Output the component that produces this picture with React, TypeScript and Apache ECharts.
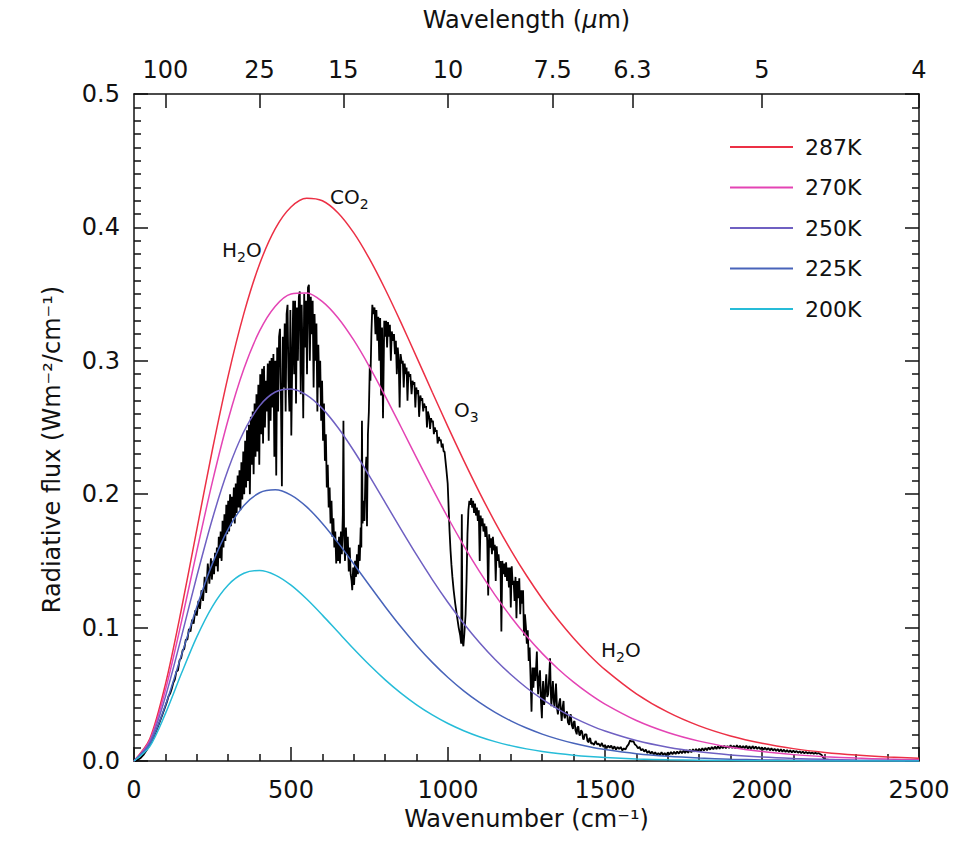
import React, { useEffect, useRef } from "react";
import * as echarts from "echarts";

// Wavenumber grid (cm^-1) for the reference curves
const planckWn = [0, 50, 100, 150, 200, 250, 300, 350, 400, 450, 500, 550, 600, 650, 700, 750, 800, 850, 900, 950, 1000, 1050, 1100, 1150, 1200, 1250, 1300, 1350, 1400, 1450, 1500, 1600, 1700, 1800, 1900, 2000, 2100, 2200, 2300, 2400, 2500];

const flux287 = [0, 0.01642, 0.05749, 0.11263, 0.17349, 0.23369, 0.2887, 0.33554, 0.37254, 0.39906, 0.41527, 0.42187, 0.41996, 0.41083, 0.39584, 0.37635, 0.35361, 0.32876, 0.30277, 0.27646, 0.25048, 0.22534, 0.20141, 0.17896, 0.15814, 0.13904, 0.12167, 0.10601, 0.092, 0.07953, 0.06851, 0.05036, 0.03658, 0.0263, 0.01874, 0.01324, 0.00928, 0.00646, 0.00447, 0.00308, 0.00211];
const flux270 = [0, 0.01532, 0.05316, 0.10317, 0.15729, 0.2096, 0.256, 0.29401, 0.3224, 0.34093, 0.35009, 0.35084, 0.34441, 0.33215, 0.31543, 0.29552, 0.27356, 0.25054, 0.22726, 0.20437, 0.18234, 0.16153, 0.14215, 0.12436, 0.10819, 0.09364, 0.08067, 0.0692, 0.05911, 0.05031, 0.04266, 0.03038, 0.02139, 0.0149, 0.01028, 0.00704, 0.00478, 0.00323, 0.00216, 0.00144, 0.00096];
const flux250 = [0, 0.01403, 0.04809, 0.09212, 0.13849, 0.18182, 0.21862, 0.24698, 0.26623, 0.27659, 0.27888, 0.27428, 0.26414, 0.24981, 0.23257, 0.21356, 0.19371, 0.17381, 0.15444, 0.13602, 0.11885, 0.1031, 0.08885, 0.0761, 0.06482, 0.05493, 0.04633, 0.03891, 0.03254, 0.02711, 0.0225, 0.01536, 0.01036, 0.00692, 0.00458, 0.003, 0.00195, 0.00126, 0.00081, 0.00052, 0.00033];
const flux225 = [0, 0.01241, 0.04179, 0.07846, 0.11545, 0.14815, 0.17388, 0.19154, 0.2011, 0.2033, 0.19931, 0.19046, 0.17811, 0.1635, 0.14768, 0.13152, 0.11567, 0.10061, 0.08664, 0.07395, 0.06261, 0.05262, 0.04393, 0.03645, 0.03008, 0.02469, 0.02017, 0.0164, 0.01329, 0.01072, 0.00862, 0.00552, 0.00349, 0.00219, 0.00136, 0.00084, 0.00051, 0.00031, 0.00019, 0.00011, 0.00007];
const flux200 = [0, 0.01081, 0.03553, 0.06503, 0.09309, 0.11599, 0.13197, 0.1407, 0.14279, 0.13937, 0.1318, 0.12139, 0.10934, 0.09662, 0.08398, 0.07195, 0.06085, 0.05089, 0.04213, 0.03456, 0.02813, 0.02272, 0.01823, 0.01453, 0.01152, 0.00909, 0.00713, 0.00558, 0.00434, 0.00336, 0.0026, 0.00154, 0.0009, 0.00052, 0.0003, 0.00017, 0.0001, 0.00005, 0.00003, 0.00002, 0.00001];

const curveNames = ["287K", "270K", "250K", "225K", "200K"];
const curveColors = ["#ec3045", "#e444b4", "#6f60c2", "#4864ba", "#26bcd8"];

// Measured outgoing spectrum [wavenumber, flux]
const spectrum: [number, number][] = [
  [0, 0], [10, 0.0005], [20, 0.002], [30, 0.0045], [40, 0.008], [50, 0.0122], [60, 0.0168], [70, 0.0222], [80, 0.0282], [90, 0.0345],
  [100, 0.041], [105, 0.0445], [110, 0.0485], [115, 0.0505], [120, 0.054], [125, 0.0585], [130, 0.061], [135, 0.067], [140, 0.068], [145, 0.0755], [150, 0.077],
  [155, 0.083], [160, 0.084], [165, 0.091], [170, 0.091], [175, 0.099], [180, 0.097], [185, 0.106], [190, 0.103], [195, 0.113], [200, 0.109],
  [205, 0.12], [210, 0.114], [215, 0.128], [220, 0.12], [225, 0.138], [230, 0.126], [235, 0.148], [240, 0.133], [245, 0.152], [248, 0.136],
  // water vapour rotation band
  [252, 0.15], [255, 0.14], [258, 0.156], [261, 0.146], [264, 0.16], [267, 0.142], [270, 0.168], [273, 0.152], [276, 0.172], [279, 0.15],
  [282, 0.18], [285, 0.16], [288, 0.185], [291, 0.165], [294, 0.192], [297, 0.17], [300, 0.195], [303, 0.172], [306, 0.2], [309, 0.176],
  [312, 0.198], [315, 0.182], [318, 0.205], [321, 0.178], [324, 0.208], [327, 0.186], [330, 0.214], [333, 0.19], [336, 0.218], [339, 0.188],
  [342, 0.224], [345, 0.196], [348, 0.232], [351, 0.2], [354, 0.24], [357, 0.205], [360, 0.248], [363, 0.21], [366, 0.252], [369, 0.2],
  [372, 0.258], [375, 0.222], [378, 0.262], [381, 0.215], [384, 0.268], [387, 0.228], [390, 0.275], [393, 0.232], [396, 0.282], [399, 0.222],
  [402, 0.29], [405, 0.245], [408, 0.294], [411, 0.238], [414, 0.296], [417, 0.25], [420, 0.285], [423, 0.262], [426, 0.298], [429, 0.24],
  [432, 0.3], [435, 0.255], [438, 0.302], [441, 0.265], [444, 0.305], [447, 0.228], [450, 0.3], [453, 0.214], [456, 0.31], [459, 0.262],
  [462, 0.318], [465, 0.324], [468, 0.27], [471, 0.206], [474, 0.318], [477, 0.28], [480, 0.328], [483, 0.262], [486, 0.335], [489, 0.342],
  [492, 0.285], [495, 0.262], [498, 0.338], [501, 0.244], [504, 0.3], [507, 0.345], [510, 0.29], [513, 0.345], [516, 0.268], [519, 0.34],
  [522, 0.3], [525, 0.348], [528, 0.352], [531, 0.275], [534, 0.342], [537, 0.3], [539, 0.257], [542, 0.35], [545, 0.31], [548, 0.345],
  [551, 0.29], [554, 0.355], [557, 0.357], [560, 0.3], [563, 0.348], [566, 0.32], [569, 0.345], [572, 0.28], [575, 0.335], [578, 0.3],
  [581, 0.328], [584, 0.262], [587, 0.312], [590, 0.28], [593, 0.3], [596, 0.255], [599, 0.285], [602, 0.24], [605, 0.268], [608, 0.225],
  [611, 0.245], [614, 0.205], [617, 0.222], [620, 0.19], [623, 0.205], [626, 0.178], [629, 0.195], [632, 0.168], [635, 0.182], [638, 0.16],
  [641, 0.172], [644, 0.148],
  // CO2 band
  [647, 0.165], [650, 0.15], [653, 0.168], [656, 0.148], [659, 0.172], [662, 0.155], [665, 0.185], [667, 0.255], [669, 0.17], [672, 0.15],
  [675, 0.175], [678, 0.155], [681, 0.168], [684, 0.142], [687, 0.16], [690, 0.14], [693, 0.135], [695, 0.128], [698, 0.145], [701, 0.132],
  [704, 0.15], [707, 0.138], [710, 0.155], [713, 0.14], [716, 0.162], [719, 0.15], [722, 0.175], [724, 0.16], [726, 0.255], [728, 0.178],
  [731, 0.195], [734, 0.18], [737, 0.215], [740, 0.228], [742, 0.176], [745, 0.245], [748, 0.262], [751, 0.297], [753, 0.285], [756, 0.32],
  [759, 0.342],
  // atmospheric window
  [762, 0.335], [766, 0.34], [769, 0.32], [772, 0.338], [775, 0.315], [778, 0.333], [781, 0.3], [784, 0.332], [787, 0.274], [790, 0.325],
  [793, 0.257], [797, 0.33], [800, 0.318], [803, 0.33], [806, 0.31], [809, 0.329], [812, 0.318], [815, 0.327], [818, 0.3], [821, 0.322],
  [825, 0.315], [828, 0.32], [831, 0.305], [834, 0.315], [837, 0.29], [840, 0.31], [843, 0.3], [846, 0.265], [849, 0.305], [853, 0.298],
  [856, 0.3], [859, 0.28], [862, 0.298], [865, 0.29], [868, 0.295], [871, 0.27], [874, 0.292], [877, 0.288], [880, 0.29], [884, 0.275],
  [887, 0.285], [890, 0.282], [893, 0.284], [896, 0.265], [899, 0.28], [902, 0.275], [905, 0.278], [908, 0.258], [912, 0.274], [915, 0.27],
  [918, 0.272], [921, 0.262], [924, 0.268], [927, 0.265], [930, 0.266], [933, 0.25], [936, 0.262], [940, 0.258], [943, 0.249], [946, 0.257],
  [949, 0.254], [952, 0.255], [955, 0.245], [958, 0.25], [961, 0.247], [964, 0.248], [967, 0.238], [971, 0.243], [974, 0.24], [977, 0.241],
  [980, 0.235], [983, 0.238], [986, 0.232], [989, 0.232], [992, 0.225], [995, 0.218], [999, 0.208], [1002, 0.19], [1005, 0.172], [1008, 0.158],
  // ozone band
  [1011, 0.147], [1014, 0.138], [1018, 0.128], [1023, 0.118], [1029, 0.108], [1034, 0.1], [1039, 0.094], [1042, 0.088], [1044, 0.185], [1046, 0.09],
  [1049, 0.086], [1052, 0.095], [1056, 0.11], [1059, 0.135], [1062, 0.17], [1065, 0.188], [1068, 0.195], [1071, 0.192],
  [1074, 0.197], [1077, 0.19], [1080, 0.195], [1083, 0.186], [1086, 0.193], [1089, 0.184], [1092, 0.19], [1095, 0.18], [1098, 0.188], [1101, 0.15],
  [1104, 0.184], [1107, 0.176], [1110, 0.182], [1113, 0.172], [1116, 0.178], [1119, 0.168], [1122, 0.176], [1125, 0.165], [1128, 0.124], [1131, 0.17],
  [1134, 0.16], [1137, 0.167], [1140, 0.155], [1143, 0.168], [1146, 0.158], [1149, 0.162], [1152, 0.135], [1155, 0.161], [1158, 0.15], [1161, 0.155],
  [1164, 0.145], [1167, 0.15], [1170, 0.097], [1173, 0.15], [1176, 0.14], [1179, 0.148], [1182, 0.138], [1185, 0.149], [1188, 0.135], [1191, 0.145],
  [1194, 0.13], [1197, 0.145], [1200, 0.115], [1203, 0.146], [1206, 0.132], [1209, 0.135], [1212, 0.12], [1215, 0.138], [1218, 0.107], [1221, 0.135],
  [1224, 0.122], [1227, 0.137], [1230, 0.11], [1233, 0.128], [1236, 0.118], [1239, 0.128], [1242, 0.094], [1245, 0.11], [1248, 0.101], [1251, 0.088],
  [1254, 0.098], [1257, 0.075], [1260, 0.085], [1263, 0.062], [1266, 0.037], [1269, 0.07], [1272, 0.055], [1275, 0.07], [1278, 0.06], [1281, 0.072],
  [1283, 0.082], [1285, 0.062], [1287, 0.05], [1290, 0.062], [1293, 0.068], [1296, 0.045], [1299, 0.032], [1301, 0.052], [1303, 0.06], [1306, 0.042],
  [1308, 0.045], [1311, 0.058], [1313, 0.065], [1316, 0.048], [1319, 0.05], [1322, 0.062], [1325, 0.077], [1327, 0.055], [1329, 0.041], [1332, 0.052],
  [1334, 0.06], [1337, 0.045], [1339, 0.04], [1342, 0.05], [1344, 0.058], [1347, 0.04], [1350, 0.035], [1353, 0.042], [1357, 0.047], [1360, 0.036],
  [1362, 0.03], [1365, 0.04], [1368, 0.045], [1370, 0.034], [1372, 0.032], [1376, 0.036], [1379, 0.037], [1382, 0.029], [1386, 0.027], [1388, 0.033],
  [1391, 0.035], [1394, 0.027], [1398, 0.024], [1400, 0.029], [1403, 0.03], [1406, 0.023], [1410, 0.02], [1412, 0.025], [1415, 0.026], [1418, 0.02],
  [1420, 0.019], [1424, 0.023], [1427, 0.022], [1430, 0.017], [1432, 0.016], [1436, 0.02], [1441, 0.02], [1444, 0.015], [1448, 0.014], [1450, 0.017],
  [1453, 0.017], [1456, 0.013],
  // nu2 water band and beyond
  [1460, 0.0135], [1465, 0.012], [1470, 0.015], [1475, 0.0125], [1480, 0.013], [1485, 0.011], [1490, 0.0135], [1495, 0.0105], [1500, 0.012], [1505, 0.0095],
  [1510, 0.0115], [1515, 0.01], [1520, 0.0115], [1525, 0.009], [1530, 0.011], [1535, 0.0085], [1540, 0.0105], [1545, 0.009], [1550, 0.0105], [1555, 0.008],
  [1560, 0.0095], [1565, 0.0085], [1570, 0.011], [1575, 0.0125], [1580, 0.0155], [1585, 0.0145], [1590, 0.015], [1595, 0.0125], [1600, 0.0115], [1605, 0.0095],
  [1610, 0.0105], [1615, 0.008], [1620, 0.009], [1625, 0.007], [1630, 0.0085], [1635, 0.006], [1640, 0.0075], [1645, 0.0055], [1650, 0.007], [1655, 0.005],
  [1660, 0.0065], [1665, 0.0045], [1670, 0.006], [1675, 0.0045], [1680, 0.0065], [1685, 0.0045], [1690, 0.006], [1695, 0.0042], [1700, 0.0065], [1705, 0.0048],
  [1710, 0.0068], [1715, 0.005], [1720, 0.007], [1725, 0.0052], [1730, 0.0072], [1735, 0.0055], [1740, 0.0075], [1745, 0.0058], [1750, 0.0078], [1755, 0.006],
  [1760, 0.008], [1765, 0.0062], [1770, 0.0085], [1775, 0.0065], [1780, 0.0088], [1785, 0.007], [1790, 0.009], [1795, 0.0072], [1800, 0.0092], [1805, 0.0075],
  [1810, 0.0095], [1815, 0.0078], [1820, 0.0098], [1825, 0.008], [1830, 0.0102], [1835, 0.0085], [1840, 0.0105], [1845, 0.0088], [1850, 0.0108], [1855, 0.009],
  [1860, 0.011], [1865, 0.0092], [1870, 0.0112], [1875, 0.0095], [1880, 0.0115], [1885, 0.0095], [1890, 0.0112], [1895, 0.0098], [1900, 0.0118], [1905, 0.0098],
  [1910, 0.0115], [1915, 0.0095], [1920, 0.0118], [1925, 0.0098], [1930, 0.0115], [1935, 0.0095], [1940, 0.0112], [1945, 0.0095], [1950, 0.0115], [1955, 0.0092],
  [1960, 0.011], [1965, 0.009], [1970, 0.0112], [1975, 0.0092], [1980, 0.0108], [1985, 0.009], [1990, 0.0105], [1995, 0.0088], [2000, 0.0102], [2005, 0.0085],
  [2010, 0.01], [2015, 0.0082], [2020, 0.0098], [2025, 0.008], [2030, 0.0095], [2035, 0.0078], [2040, 0.0092], [2045, 0.0075], [2050, 0.009], [2055, 0.0072],
  [2060, 0.0088], [2065, 0.007], [2070, 0.0085], [2075, 0.0068], [2080, 0.0082], [2085, 0.0066], [2090, 0.008], [2095, 0.0065], [2100, 0.0078], [2105, 0.0064],
  [2110, 0.0075], [2115, 0.0062], [2120, 0.0072], [2125, 0.006], [2130, 0.007], [2135, 0.0058], [2140, 0.0068], [2145, 0.0057], [2150, 0.0065], [2155, 0.0056],
  [2160, 0.0064], [2165, 0.0055], [2170, 0.0062], [2175, 0.0054], [2180, 0.006], [2185, 0.0052], [2190, 0.0045], [2195, 0.0025], [2200, 0.0012], [2215, 0.0009],
  [2230, 0.0006],
];

// Top axis: wavelength ticks (µm) at their wavenumbers
const topTickWn = [100, 400, 666.667, 1000, 1333.333, 1587.302, 2000, 2500];
const topTickLabels = ["100", "25", "15", "10", "7.5", "6.3", "5", "4"];

// Band annotations: main part, subscript, trailing part
const bandLabels = [
  { pre: "H", sub: "2", post: "O", x: 222, y: 250 },
  { pre: "CO", sub: "2", post: "", x: 330, y: 197 },
  { pre: "O", sub: "3", post: "", x: 454, y: 410 },
  { pre: "H", sub: "2", post: "O", x: 601, y: 650 },
];

const FONT = "DejaVu Sans";

export default function App() {
  const ref = useRef<HTMLDivElement>(null);
  useEffect(() => {
    if (!ref.current) return;
    const chart = echarts.init(ref.current, undefined, { renderer: "svg" });
    const curves = [flux287, flux270, flux250, flux225, flux200];
    const tickStyle = { show: true, inside: true, length: 14, lineStyle: { color: "#111", width: 1.5 } };
    const minorStyle = { lineStyle: { color: "#111", width: 1.5 }, length: 7 };
    const lineAxis = { show: true, onZero: false, lineStyle: { color: "#111", width: 1.5 } };
    const labelRich = {
      n: { fontSize: 20, fontFamily: FONT, color: "#111", lineHeight: 28, verticalAlign: "middle" },
      s: { fontSize: 14, fontFamily: FONT, color: "#111", lineHeight: 14, verticalAlign: "bottom" },
    };
    chart.setOption({
      animation: false,
      backgroundColor: "#ffffff",
      textStyle: { fontFamily: FONT },
      grid: { left: 134, top: 94, width: 785, height: 667, containLabel: false },
      legend: {
        orient: "vertical",
        left: 730,
        top: 136,
        icon: "rect",
        itemWidth: 63,
        itemHeight: 2,
        itemGap: 18.5,
        padding: 0,
        selectedMode: false,
        data: curveNames,
        textStyle: { fontSize: 22, fontFamily: FONT, color: "#111", padding: [0, 0, 0, 7], lineHeight: 22 },
      },
      xAxis: [
        {
          type: "value",
          position: "bottom",
          min: 0,
          max: 2500,
          interval: 500,
          axisLine: lineAxis,
          axisTick: tickStyle,
          minorTick: { show: true, splitNumber: 5, ...minorStyle },
          splitLine: { show: false },
          minorSplitLine: { show: false },
          axisLabel: { fontSize: 24, fontFamily: FONT, color: "#111", margin: 17, formatter: (v: number) => String(v) },
          name: "Wavenumber (cm⁻¹)",
          nameLocation: "middle",
          nameGap: 44,
          nameTextStyle: { fontSize: 24, fontFamily: FONT, color: "#111" },
        },
        {
          type: "value",
          position: "top",
          min: 0,
          max: 2500,
          axisLine: lineAxis,
          axisTick: { ...tickStyle, customValues: topTickWn },
          splitLine: { show: false },
          axisLabel: {
            fontSize: 24,
            fontFamily: FONT,
            color: "#111",
            margin: 12,
            customValues: topTickWn,
            formatter: (v: number) => {
              let best = 0;
              topTickWn.forEach((w, i) => {
                if (Math.abs(w - v) < Math.abs(topTickWn[best] - v)) best = i;
              });
              return topTickLabels[best];
            },
          },
          name: "{n|Wavelength (}{i|μ}{n|m)}",
          nameLocation: "middle",
          nameGap: 62,
          nameTextStyle: {
            fontSize: 24,
            fontFamily: FONT,
            color: "#111",
            rich: {
              n: { fontSize: 24, fontFamily: FONT, color: "#111" },
              i: { fontSize: 24, fontFamily: FONT, color: "#111", fontStyle: "italic" },
            },
          },
        },
      ],
      yAxis: [
        {
          type: "value",
          position: "left",
          min: 0,
          max: 0.5,
          interval: 0.1,
          axisLine: lineAxis,
          axisTick: tickStyle,
          minorTick: { show: true, splitNumber: 10, ...minorStyle },
          splitLine: { show: false },
          axisLabel: { fontSize: 24, fontFamily: FONT, color: "#111", margin: 14, formatter: (v: number) => v.toFixed(1) },
          name: "Radiative flux (Wm⁻²/cm⁻¹)",
          nameLocation: "middle",
          nameGap: 70,
          nameTextStyle: { fontSize: 24, fontFamily: FONT, color: "#111", padding: [0, 44, 0, 0] },
        },
        {
          type: "value",
          position: "right",
          min: 0,
          max: 0.5,
          interval: 0.1,
          axisLine: lineAxis,
          axisTick: tickStyle,
          minorTick: { show: true, splitNumber: 10, ...minorStyle },
          splitLine: { show: false },
          axisLabel: { show: false },
        },
      ],
      series: [
        {
          name: "spectrum",
          type: "line",
          xAxisIndex: 0,
          yAxisIndex: 0,
          data: spectrum,
          showSymbol: false,
          symbol: "none",
          lineStyle: { color: "#000", width: 1.8 },
          z: 2,
          silent: true,
        },
        ...curves.map((c, i) => ({
          name: curveNames[i],
          type: "line",
          xAxisIndex: 0,
          yAxisIndex: 0,
          data: planckWn.map((w, j) => [w, c[j]]),
          smooth: 0.3,
          showSymbol: false,
          symbol: "none",
          color: curveColors[i],
          lineStyle: { color: curveColors[i], width: 1.5 },
          z: 3,
          silent: true,
        })),
      ],
      graphic: bandLabels.map((b) => ({
        type: "text",
        x: b.x,
        y: b.y,
        style: {
          text: `{n|${b.pre}}{s|${b.sub}}` + (b.post ? `{n|${b.post}}` : ""),
          rich: labelRich,
          fontSize: 20,
          fontFamily: FONT,
          fill: "#111",
          verticalAlign: "middle",
          align: "left",
        },
      })),
    });
    return () => chart.dispose();
  }, []);
  return <div ref={ref} style={{ position: "absolute", left: 0, top: 0, width: 958, height: 850 }} />;
}
